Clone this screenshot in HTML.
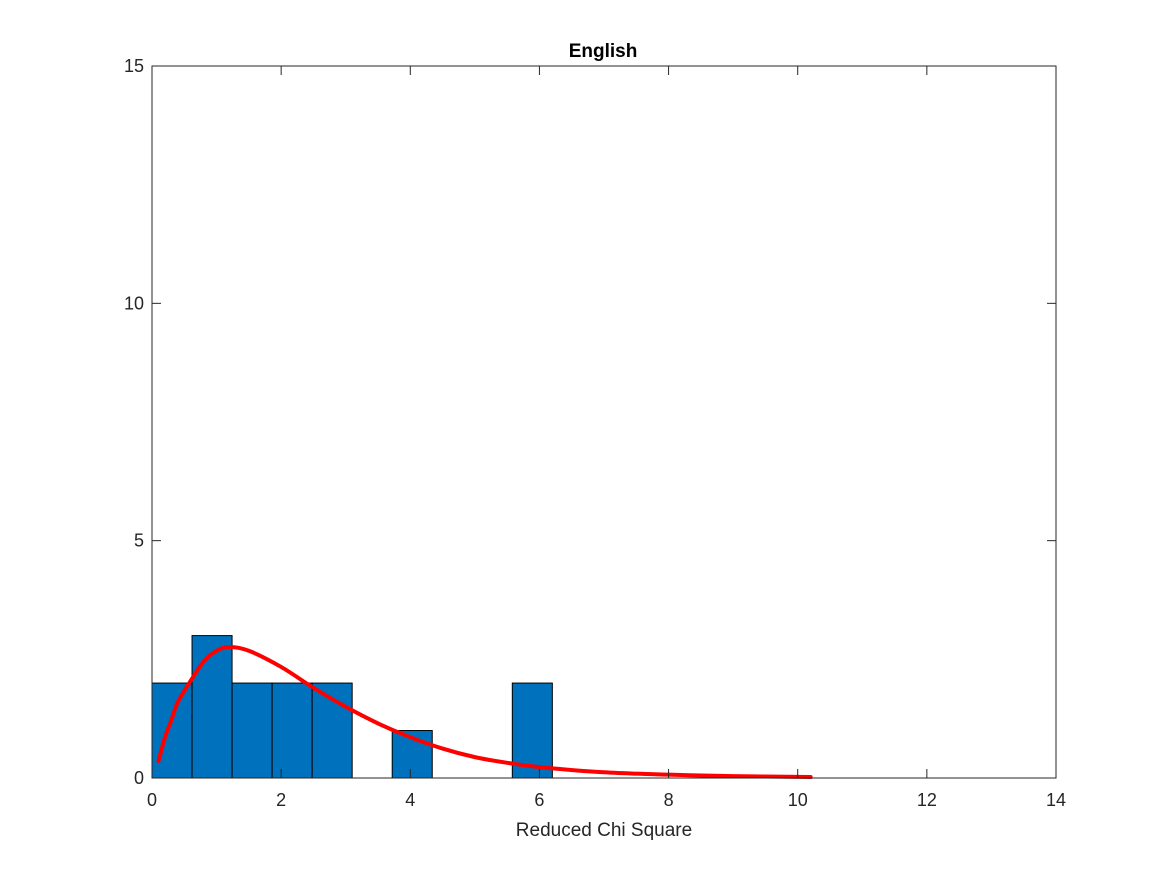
<!DOCTYPE html>
<html><head><meta charset="utf-8"><style>
body{margin:0;background:#fff;}
svg{display:block;font-family:"Liberation Sans",sans-serif;}
</style></head><body>
<svg id="chart" width="1167" height="875">
<rect width="1167" height="875" fill="#fff"/>
<g id="bars"></g>
<path id="fit" fill="none" stroke="#ff0000" stroke-width="4" stroke-linejoin="round" stroke-linecap="round"/>
<g id="axes"></g>
<text x="603" y="57" text-anchor="middle" font-size="19" font-weight="bold">English</text>
<text x="604" y="836" text-anchor="middle" font-size="19" fill="#262626">Reduced Chi Square</text>
</svg>
<script>
const binStart = 0;
const binWidth = 0.62;
const counts = [2,3,2,2,2,0,1,0,0,2];
const curveX = [0.1,0.2,0.3,0.4,0.6,0.8,1.0,1.2,1.5,2.0,2.5,3.0,3.5,4.0,4.5,5.0,5.5,6.0,7.0,8.0,9.0,10.2];
const curveY = [0.36,0.85,1.22,1.6,2.05,2.45,2.68,2.76,2.68,2.34,1.9,1.5,1.15,0.86,0.62,0.44,0.32,0.23,0.12,0.07,0.04,0.02];
const xTicks = [0,2,4,6,8,10,12,14];
const yTicks = [0,5,10,15];
const L=152,R=1056,T=66,B=778;
const sx=v=>L+(v-0)/(14-0)*(R-L);
const sy=v=>B-(v-0)/(15-0)*(B-T);
const NS="http://www.w3.org/2000/svg";
const bars=document.getElementById('bars');
counts.forEach((c,i)=>{
  if(c<=0) return;
  const r=document.createElementNS(NS,'rect');
  const x0=sx(binStart+i*binWidth), x1=sx(binStart+(i+1)*binWidth);
  r.setAttribute('x',x0);r.setAttribute('y',sy(c));
  r.setAttribute('width',x1-x0);r.setAttribute('height',sy(0)-sy(c));
  r.setAttribute('fill','#0072bd');r.setAttribute('stroke','#000');r.setAttribute('stroke-width','1');
  
  
  bars.appendChild(r);
});
const P=curveX.map((x,i)=>[sx(x),sy(curveY[i])]);
let d='M'+P[0][0]+','+P[0][1];
for(let i=0;i<P.length-1;i++){
  const p0=P[Math.max(0,i-1)],p1=P[i],p2=P[i+1],p3=P[Math.min(P.length-1,i+2)];
  const c1=[p1[0]+(p2[0]-p0[0])/6,p1[1]+(p2[1]-p0[1])/6];
  const c2=[p2[0]-(p3[0]-p1[0])/6,p2[1]-(p3[1]-p1[1])/6];
  d+=' C'+c1[0]+','+c1[1]+' '+c2[0]+','+c2[1]+' '+p2[0]+','+p2[1];
}
document.getElementById('fit').setAttribute('d',d);
const ax=document.getElementById('axes');
let h='<rect x="'+L+'" y="'+T+'" width="'+(R-L)+'" height="'+(B-T)+'" fill="none" stroke="#262626" stroke-width="1"/>';
xTicks.forEach(t=>{const x=sx(t);
 h+='<line x1="'+x+'" y1="'+B+'" x2="'+x+'" y2="'+(B-9)+'" stroke="#262626"/><line x1="'+x+'" y1="'+T+'" x2="'+x+'" y2="'+(T+9)+'" stroke="#262626"/>';
 h+='<text x="'+x+'" y="'+(B+28)+'" text-anchor="middle" font-size="18" fill="#262626">'+t+'</text>';});
yTicks.forEach(t=>{const y=sy(t);
 h+='<line x1="'+L+'" y1="'+y+'" x2="'+(L+9)+'" y2="'+y+'" stroke="#262626"/><line x1="'+R+'" y1="'+y+'" x2="'+(R-9)+'" y2="'+y+'" stroke="#262626"/>';
 h+='<text x="'+(L-8)+'" y="'+(y+6)+'" text-anchor="end" font-size="18" fill="#262626">'+t+'</text>';});
ax.innerHTML=h;
</script>
</body></html>
